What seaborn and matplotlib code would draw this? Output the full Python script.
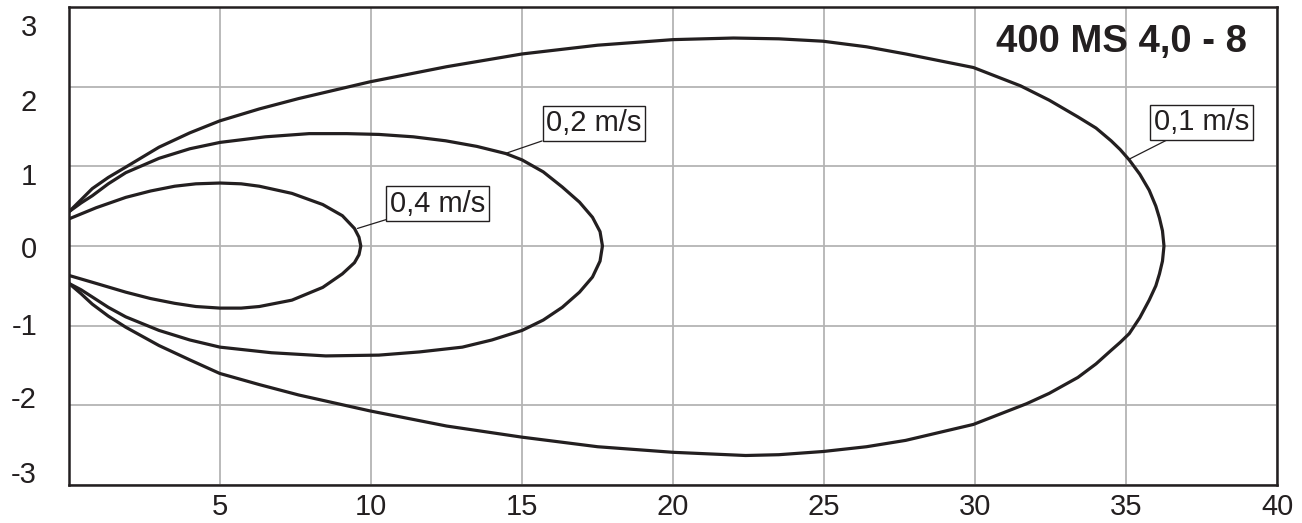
import numpy as np
import pandas as pd
import seaborn as sns
import matplotlib.pyplot as plt

# throw pattern at three terminal velocities, upper half then lower half
v01_upper_x = [0, 0.4, 0.77, 1.3, 1.88, 2.98, 4.0, 4.99, 6.3, 7.6, 9.96, 12.5, 15.0, 17.5,
               20.0, 22.0, 23.5, 24.96, 26.4, 27.7, 29.94, 31.5, 32.45, 33.4, 34.0, 34.5,
               34.8, 35.1, 35.45, 35.76, 35.98, 36.1, 36.2, 36.25]
v01_upper_y = [0.43, 0.58, 0.72, 0.86, 0.99, 1.24, 1.42, 1.57, 1.72, 1.85, 2.06, 2.25,
               2.41, 2.52, 2.59, 2.61, 2.60, 2.57, 2.50, 2.41, 2.24, 2.01, 1.83, 1.62,
               1.48, 1.32, 1.21, 1.08, 0.90, 0.70, 0.50, 0.35, 0.19, 0]
v01_lower_x = [36.2, 36.1, 35.98, 35.76, 35.45, 35.1, 34.8, 34.5, 34.0, 33.4, 32.45,
               31.7, 29.94, 27.7, 26.4, 24.96, 23.5, 22.4, 20.0, 17.5, 15.0, 12.5, 9.96,
               7.6, 6.3, 4.99, 4.0, 2.98, 1.88, 1.3, 0.77, 0.4, 0]
v01_lower_y = [-0.19, -0.35, -0.50, -0.68, -0.90, -1.10, -1.21, -1.31, -1.48, -1.65,
               -1.85, -1.98, -2.24, -2.44, -2.52, -2.58, -2.62, -2.63, -2.59, -2.52,
               -2.40, -2.26, -2.07, -1.87, -1.74, -1.60, -1.43, -1.25, -1.02, -0.88,
               -0.73, -0.60, -0.47]

v02_upper_x = [0, 0.4, 0.77, 1.3, 1.88, 2.98, 4.0, 5.0, 6.5, 7.95, 9.2, 10.26, 11.4,
               12.47, 13.5, 14.46, 15.0, 15.7, 16.33, 16.9, 17.33, 17.58, 17.66]
v02_upper_y = [0.43, 0.54, 0.63, 0.78, 0.92, 1.10, 1.22, 1.30, 1.37, 1.41, 1.41, 1.40,
               1.37, 1.32, 1.25, 1.16, 1.08, 0.93, 0.74, 0.55, 0.36, 0.18, 0]
v02_lower_x = [17.58, 17.33, 16.9, 16.33, 15.7, 15.0, 14.0, 13.02, 11.6, 10.26, 8.5,
               6.7, 5.0, 4.0, 2.98, 1.88, 1.3, 0.77, 0.4, 0]
v02_lower_y = [-0.19, -0.39, -0.58, -0.77, -0.93, -1.06, -1.18, -1.27, -1.33, -1.37,
               -1.38, -1.34, -1.27, -1.18, -1.06, -0.89, -0.77, -0.64, -0.55, -0.47]

v04_upper_x = [0, 0.9, 1.88, 2.7, 3.5, 4.2, 5.0, 5.7, 6.3, 7.38, 8.4, 9.05, 9.45, 9.6,
               9.66]
v04_upper_y = [0.34, 0.48, 0.61, 0.69, 0.75, 0.78, 0.79, 0.78, 0.75, 0.66, 0.52, 0.38,
               0.22, 0.11, 0]
v04_lower_x = [9.6, 9.45, 9.05, 8.4, 7.38, 6.3, 5.7, 5.0, 4.2, 3.5, 2.7, 1.88, 0.9, 0]
v04_lower_y = [-0.11, -0.21, -0.35, -0.52, -0.68, -0.76, -0.78, -0.78, -0.76, -0.72,
               -0.66, -0.58, -0.47, -0.37]

labels = ["0,1 m/s", "0,2 m/s", "0,4 m/s"]
label_pos = [(37.49, 1.55), (17.37, 1.54), (12.2, 0.53)]
label_tip = [(35.1, 1.09), (14.44, 1.16), (9.55, 0.22)]

x_ticks = [5, 10, 15, 20, 25, 30, 35, 40]
y_ticks = [3, 2, 1, 0, -1, -2, -3]
y_tick_labels = ["3", "2", "1", "0", "-1", "-2", "-3"]
# the y labels sit a little towards the middle of the axis in the original
y_label_shift = [21, 16, 11, 4, 1, -5, -10]
title = "400 MS 4,0 - 8"

curves = [
    (v01_upper_x + v01_lower_x, v01_upper_y + v01_lower_y),
    (v02_upper_x + v02_lower_x, v02_upper_y + v02_lower_y),
    (v04_upper_x + v04_lower_x, v04_upper_y + v04_lower_y),
]

sns.set_style("white")
plt.rcParams['font.family'] = ['Liberation Sans', 'DejaVu Sans']
plt.rcParams['axes.unicode_minus'] = False
ink = "#231f20"

fig = plt.figure(figsize=(13.02, 5.23), dpi=100)
ax = fig.add_axes([0.053, 0.0727, 0.928, 0.914])

for xs, ys in curves:
    df = pd.DataFrame({"x": xs, "y": ys})
    sns.lineplot(data=df, x="x", y="y", sort=False, estimator=None,
                 color=ink, linewidth=2.3, ax=ax)

ax.set_xlim(0, 40)
ax.set_ylim(-3, 3)
ax.set_xticks(x_ticks)
ax.set_yticks(y_ticks)
ax.set_yticklabels([])
ax.set_xlabel("")
ax.set_ylabel("")
ax.grid(True, color="#b4b4b4", linewidth=1.3)
ax.tick_params(axis="both", length=0, labelsize=21, colors=ink)
ax.tick_params(axis="x", pad=6)
for s in ax.spines.values():
    s.set_visible(True)
    s.set_color(ink)
    s.set_linewidth(1.8)

for v, lab, dy in zip(y_ticks, y_tick_labels, y_label_shift):
    ax.annotate(lab, xy=(0, v), xycoords=("axes fraction", "data"),
                xytext=(-32, -dy), textcoords="offset pixels",
                ha="right", va="center", fontsize=21, color=ink,
                annotation_clip=False)

for lab, pos, tip in zip(labels, label_pos, label_tip):
    ax.annotate(lab, xy=tip, xytext=pos, ha="center", va="center",
                fontsize=21, color=ink,
                bbox=dict(boxstyle="square,pad=0.12", fc="white", ec=ink, lw=1.0),
                arrowprops=dict(arrowstyle="-", color=ink, lw=0.9,
                                shrinkA=0, shrinkB=0))

ax.text(0.975, 0.927, title, transform=ax.transAxes, ha="right", va="center",
        fontsize=27.5, fontweight="bold", color=ink)

fig.savefig("out.png", dpi=100)
